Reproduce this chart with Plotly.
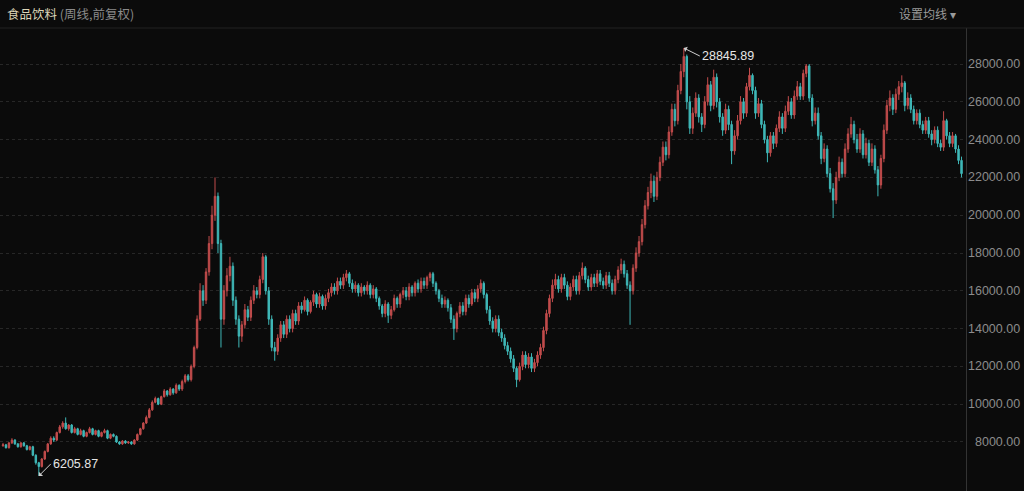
import plotly.graph_objects as go

opens = [
 7800, 7850, 7700, 7950, 8100, 7900, 7750, 7950, 7800, 7600,
 7750, 7300, 6900, 6700, 7100, 7500, 7900, 8200, 8100, 8500,
 8800, 9000, 8700, 8900, 8500, 8700, 8400, 8600, 8300, 8500,
 8700, 8400, 8600, 8300, 8500, 8600, 8200, 8400, 8300, 8000,
 7900, 8050, 7950, 8000, 7900, 8100, 8400, 8700, 9000, 9300,
 9700, 10100, 10300, 10000, 10400, 10700, 10500, 10800, 10600, 11000,
 10800, 11200, 11500, 11300, 12000, 13000, 14500, 16000, 15500, 17000,
 18500, 20000, 21000, 18500, 14500, 16000, 16800, 17300, 15500, 14500,
 13600, 14200, 15000, 14600, 15500, 16000, 15800, 16600, 17800, 16000,
 14500, 13000, 12800, 13500, 14200, 13700, 14500, 14000, 14800, 14400,
 15200, 15000, 15500, 14900, 15400, 15800, 15300, 15700, 15200, 15600,
 15900, 16200, 16000, 16500, 16300, 16700, 16900, 16400, 16100, 16300,
 15900, 16200, 16000, 16300, 15800, 16100, 15600, 15200, 14800, 15300,
 14700, 15000, 15600, 15300, 15800, 16000, 15700, 16200, 15900, 16400,
 16100, 16500, 16300, 16700, 16900, 16400, 16000, 15600, 15300, 15500,
 15100, 14500, 14000, 14800, 15200, 14900, 15600, 15300, 15900, 15600,
 16100, 16400, 15800, 15000, 14400, 14000, 14500, 13800, 13500, 13100,
 12800, 12400, 11900, 11300, 12000, 12600, 12100, 12500, 11900, 12200,
 12600, 13000, 13900, 14800, 15600, 16300, 16600, 16100, 16700, 16300,
 15700, 16200, 16600, 16000, 16800, 17200, 16600, 16200, 16700, 16400,
 16900, 16500, 16300, 16800, 16400, 16000, 16600, 17100, 17400, 16900,
 16300, 16000, 17200, 18000, 18600, 19500, 20500, 21200, 21800, 21000,
 22000, 22800, 23600, 23200, 24400, 25600, 25000, 26600, 27600, 28400,
 26000, 24600, 25400, 26200, 25200, 24800, 26000, 26900, 25800, 27300,
 26000, 25200, 24500, 25600, 24800, 23400, 24200, 25000, 26000, 25400,
 26800, 27400, 26600, 25400, 25900, 24800, 24000, 23300, 24200, 23800,
 24600, 25200, 24600, 25500, 26000, 25300, 26300, 26800, 26300, 27500,
 27900, 26200, 25000, 25400, 24200, 23000, 23500, 22200, 21400, 20800,
 22000, 22800, 22200, 23500, 24300, 24800, 24000, 23500, 24300, 23200,
 23800, 22800, 23500, 22400, 21600, 23000, 24500, 25800, 26200, 25600,
 26400, 26800, 27000, 25800, 26200, 25600, 25000, 25400, 24800, 24500,
 25000, 24300, 24000, 24500, 23800, 23600, 25000, 24200, 23800, 24200,
 23500, 22900,
]

closes = [
 7850, 7700, 7950, 8100, 7900, 7750, 7950, 7800, 7600, 7750,
 7300, 6900, 6700, 7100, 7500, 7900, 8200, 8100, 8500, 8800,
 9000, 8700, 8900, 8500, 8700, 8400, 8600, 8300, 8500, 8700,
 8400, 8600, 8300, 8500, 8600, 8200, 8400, 8300, 8000, 7900,
 8050, 7950, 8000, 7900, 8100, 8400, 8700, 9000, 9300, 9700,
 10100, 10300, 10000, 10400, 10700, 10500, 10800, 10600, 11000, 10800,
 11200, 11500, 11300, 12000, 13000, 14500, 16000, 15500, 17000, 18500,
 20000, 21000, 18500, 14500, 16000, 16800, 17300, 15500, 14500, 13600,
 14200, 15000, 14600, 15500, 16000, 15800, 16600, 17800, 16000, 14500,
 13000, 12800, 13500, 14200, 13700, 14500, 14000, 14800, 14400, 15200,
 15000, 15500, 14900, 15400, 15800, 15300, 15700, 15200, 15600, 15900,
 16200, 16000, 16500, 16300, 16700, 16900, 16400, 16100, 16300, 15900,
 16200, 16000, 16300, 15800, 16100, 15600, 15200, 14800, 15300, 14700,
 15000, 15600, 15300, 15800, 16000, 15700, 16200, 15900, 16400, 16100,
 16500, 16300, 16700, 16900, 16400, 16000, 15600, 15300, 15500, 15100,
 14500, 14000, 14800, 15200, 14900, 15600, 15300, 15900, 15600, 16100,
 16400, 15800, 15000, 14400, 14000, 14500, 13800, 13500, 13100, 12800,
 12400, 11900, 11300, 12000, 12600, 12100, 12500, 11900, 12200, 12600,
 13000, 13900, 14800, 15600, 16300, 16600, 16100, 16700, 16300, 15700,
 16200, 16600, 16000, 16800, 17200, 16600, 16200, 16700, 16400, 16900,
 16500, 16300, 16800, 16400, 16000, 16600, 17100, 17400, 16900, 16300,
 16000, 17200, 18000, 18600, 19500, 20500, 21200, 21800, 21000, 22000,
 22800, 23600, 23200, 24400, 25600, 25000, 26600, 27600, 28400, 26000,
 24600, 25400, 26200, 25200, 24800, 26000, 26900, 25800, 27300, 26000,
 25200, 24500, 25600, 24800, 23400, 24200, 25000, 26000, 25400, 26800,
 27400, 26600, 25400, 25900, 24800, 24000, 23300, 24200, 23800, 24600,
 25200, 24600, 25500, 26000, 25300, 26300, 26800, 26300, 27500, 27900,
 26200, 25000, 25400, 24200, 23000, 23500, 22200, 21400, 20800, 22000,
 22800, 22200, 23500, 24300, 24800, 24000, 23500, 24300, 23200, 23800,
 22800, 23500, 22400, 21600, 23000, 24500, 25800, 26200, 25600, 26400,
 26800, 27000, 25800, 26200, 25600, 25000, 25400, 24800, 24500, 25000,
 24300, 24000, 24500, 23800, 23600, 25000, 24200, 23800, 24200, 23500,
 22900, 22200,
]

highs = [
 7950, 7900, 8000, 8200, 8150, 7950, 8000, 8000, 7850, 7800,
 7800, 7350, 6950, 7150, 7550, 7950, 8300, 8300, 8550, 8900,
 9100, 9300, 8950, 8950, 8800, 8750, 8700, 8650, 8550, 8800,
 8750, 8650, 8650, 8550, 8700, 8650, 8450, 8450, 8350, 8050,
 8100, 8100, 8050, 8050, 8150, 8450, 8750, 9050, 9400, 9800,
 10200, 10400, 10350, 10450, 10800, 10750, 10900, 10850, 11100, 11050,
 11300, 11600, 11600, 12100, 13100, 14700, 16400, 16300, 17200, 18900,
 20500, 22000, 21200, 18700, 16300, 17200, 17800, 17500, 15700, 14700,
 14400, 15300, 15200, 15700, 16300, 16200, 16800, 18000, 17900, 16200,
 14700, 13300, 13700, 14400, 14400, 14700, 14700, 15000, 15000, 15400,
 15400, 15700, 15600, 15500, 16000, 15900, 15900, 15800, 15800, 16100,
 16400, 16400, 16700, 16700, 16900, 17100, 17000, 16600, 16500, 16400,
 16400, 16300, 16500, 16400, 16300, 16200, 15700, 15300, 15500, 15400,
 15200, 15800, 15700, 15900, 16200, 16200, 16400, 16300, 16500, 16600,
 16700, 16700, 16800, 17000, 17000, 16500, 16100, 15800, 15700, 15600,
 15300, 14700, 14900, 15400, 15400, 15800, 15800, 16100, 16100, 16300,
 16600, 16500, 15900, 15200, 14600, 14700, 14700, 14000, 13700, 13300,
 13000, 12600, 12000, 12200, 12800, 12800, 12700, 12700, 12400, 12800,
 13200, 14100, 15000, 15800, 16600, 16900, 16800, 16900, 16900, 16500,
 16400, 16800, 16800, 17000, 17500, 17300, 16800, 16900, 16900, 17100,
 17100, 16700, 17000, 17000, 16600, 16800, 17300, 17700, 17600, 17100,
 16500, 17400, 18300, 18900, 19800, 20800, 21500, 22200, 22100, 22300,
 23100, 23900, 23900, 24700, 25900, 25900, 26900, 28000, 28845.89, 28500,
 26300, 25700, 26500, 26400, 25400, 26300, 27300, 27100, 27700, 27500,
 26200, 25400, 25900, 25800, 25000, 24500, 25300, 26300, 26200, 27000,
 27800, 27500, 26800, 26200, 26100, 25000, 24200, 24400, 24400, 24800,
 25500, 25400, 25800, 26300, 26200, 26600, 27100, 27000, 27700, 28000,
 28000, 26400, 25700, 25700, 24400, 23800, 23700, 22500, 21700, 22300,
 23100, 23000, 23800, 24600, 25200, 25000, 24300, 24600, 24500, 24100,
 24000, 23800, 23700, 22600, 23200, 24800, 26100, 26600, 26400, 26700,
 27100, 27400, 27100, 26500, 26400, 25800, 25600, 25600, 25000, 25200,
 25200, 24500, 24700, 24700, 24000, 25500, 25100, 24400, 24400, 24300,
 23700, 23100,
]

lows = [
 7750, 7650, 7650, 7900, 7850, 7700, 7700, 7750, 7550, 7550,
 7250, 6800, 6205.87, 6650, 7050, 7450, 7850, 8000, 8050, 8450,
 8700, 8650, 8600, 8450, 8450, 8350, 8350, 8250, 8250, 8450,
 8350, 8350, 8250, 8250, 8450, 8150, 8150, 8250, 7950, 7850,
 7850, 7900, 7900, 7850, 7850, 8050, 8350, 8650, 8950, 9250,
 9650, 10050, 9950, 9950, 10350, 10400, 10450, 10500, 10550, 10700,
 10700, 11100, 11200, 11200, 11900, 12900, 14400, 15200, 15300, 16800,
 18200, 19700, 18000, 13000, 14200, 15700, 16500, 15200, 14200, 13000,
 13300, 14000, 14400, 14400, 15300, 15600, 15600, 16400, 15800, 14200,
 12800, 12300, 12600, 13300, 13500, 13500, 13800, 13800, 14200, 14200,
 14800, 14900, 14700, 14800, 15200, 15100, 15100, 15000, 15000, 15400,
 15700, 15800, 15800, 16100, 16100, 16500, 16200, 15900, 15900, 15700,
 15700, 15800, 15800, 15600, 15600, 15400, 15000, 14600, 14600, 14300,
 14500, 14900, 15100, 15100, 15600, 15500, 15500, 15700, 15700, 15900,
 15900, 16100, 16100, 16500, 16200, 15800, 15400, 15100, 15100, 14900,
 14300, 13400, 13800, 14600, 14700, 14700, 15100, 15200, 15400, 15400,
 15900, 15600, 14800, 14200, 13800, 13800, 13600, 13300, 12900, 12600,
 12200, 11700, 10900, 11200, 11800, 11900, 11900, 11700, 11700, 12000,
 12400, 12800, 13700, 14600, 15400, 16100, 15900, 15900, 16100, 15500,
 15500, 16000, 15800, 15800, 16600, 16400, 16000, 16000, 16200, 16200,
 16300, 16100, 16100, 16200, 15800, 15800, 16400, 16900, 16700, 16100,
 14200, 15800, 17000, 17800, 18400, 19300, 20300, 20900, 20700, 20800,
 21800, 22600, 22900, 23000, 24200, 24700, 24800, 26400, 27300, 25600,
 24300, 24300, 25200, 24900, 24400, 24600, 25800, 25500, 25600, 25700,
 24900, 24200, 24300, 24500, 22700, 23200, 24000, 24800, 25100, 25200,
 26600, 26400, 25100, 25200, 24600, 23800, 22800, 23100, 23500, 23600,
 24400, 24300, 24400, 25300, 25100, 25100, 26100, 26100, 26100, 27300,
 26000, 24700, 24800, 24000, 22700, 22800, 22000, 21200, 19850, 20600,
 21800, 22000, 22000, 23300, 24100, 23800, 23300, 23300, 23000, 23000,
 22600, 22600, 22200, 21000, 21400, 22800, 24300, 25500, 25300, 25400,
 26100, 26500, 25500, 25600, 25400, 24800, 24800, 24600, 24300, 24300,
 24100, 23700, 23800, 23600, 23400, 23400, 24000, 23600, 23600, 23300,
 22700, 22000,
]

weeks = list(range(len(closes)))

y_ticks = [8000, 10000, 12000, 14000, 16000, 18000, 20000, 22000, 24000, 26000, 28000]
tick_labels = ["8000.00", "10000.00", "12000.00", "14000.00", "16000.00", "18000.00",
               "20000.00", "22000.00", "24000.00", "26000.00", "28000.00"]

title_name = "食品饮料"
title_sub = "(周线,前复权)"
ma_button = "设置均线 ▾"
max_label = "28845.89"
min_label = "6205.87"
max_idx = highs.index(max(highs))
min_idx = lows.index(min(lows))

UP = "#c24c4c"
DOWN = "#3fb8b8"
BG = "#0b0b0b"

fig = go.Figure(go.Candlestick(
    x=weeks, open=opens, high=highs, low=lows, close=closes,
    increasing=dict(line=dict(color=UP, width=1), fillcolor=UP),
    decreasing=dict(line=dict(color=DOWN, width=1), fillcolor=DOWN),
    whiskerwidth=0, hoverinfo="skip",
))

annotations = []
for v, t in zip(y_ticks, tick_labels):
    annotations.append(dict(
        x=1, xref="paper", y=v, yref="y", text=t, showarrow=False,
        xanchor="right", yanchor="middle", xshift=56,
        font=dict(family="Liberation Sans, Arial, sans-serif", size=12.5, color="#8c8c8c"),
    ))

annotations.append(dict(
    x=0, xref="paper", y=1, yref="paper", xanchor="left", yanchor="middle",
    xshift=5, yshift=15, showarrow=False,
    text=f"<span style='color:#ddd6b8'>{title_name}</span> <span style='color:#8a8a8a'>{title_sub}</span>",
    font=dict(family="Noto Sans CJK SC, sans-serif", size=12.5),
))
annotations.append(dict(
    x=1, xref="paper", y=1, yref="paper", xanchor="right", yanchor="middle",
    xshift=-8, yshift=15, showarrow=False, text=ma_button,
    font=dict(family="Noto Sans CJK SC, sans-serif", size=12, color="#9a9a9a"),
))
annotations.append(dict(
    x=weeks[max_idx], y=max(highs), xref="x", yref="y", text=max_label,
    showarrow=True, arrowhead=1, arrowsize=1, arrowwidth=1, arrowcolor="#cfcfcf",
    ax=16, ay=8, xanchor="left", yanchor="middle",
    font=dict(family="Liberation Sans, Arial, sans-serif", size=12.5, color="#e6e6e6"),
))
annotations.append(dict(
    x=weeks[min_idx], y=min(lows), xref="x", yref="y", text=min_label,
    showarrow=True, arrowhead=1, arrowsize=1, arrowwidth=1, arrowcolor="#cfcfcf",
    ax=12, ay=-12, xanchor="left", yanchor="middle",
    font=dict(family="Liberation Sans, Arial, sans-serif", size=12.5, color="#e6e6e6"),
))

fig.update_layout(
    width=1024, height=491,
    paper_bgcolor=BG, plot_bgcolor=BG,
    margin=dict(l=0, r=58, t=28, b=0),
    showlegend=False,
    hovermode=False,
    annotations=annotations,
    xaxis=dict(range=[-1, len(closes) + 0.5], showgrid=False, zeroline=False,
               showticklabels=False, rangeslider=dict(visible=False), fixedrange=True),
    yaxis=dict(range=[5407, 29905], side="right", tickvals=y_ticks,
               showticklabels=False, showgrid=True, gridcolor="#272727",
               griddash="3px,3px", gridwidth=1, zeroline=False,
               showline=True, linecolor="#333333", linewidth=1, ticks="",
               fixedrange=True),
    shapes=[dict(type="line", xref="paper", yref="paper", x0=0, x1=1.06,
                 y0=1, y1=1, line=dict(color="#222222", width=1))],
)

fig.write_html(
    "out.html",
    config={"displayModeBar": False, "staticPlot": True},
    post_script="document.body.style.margin='0';document.body.style.background='#0b0b0b';",
)
